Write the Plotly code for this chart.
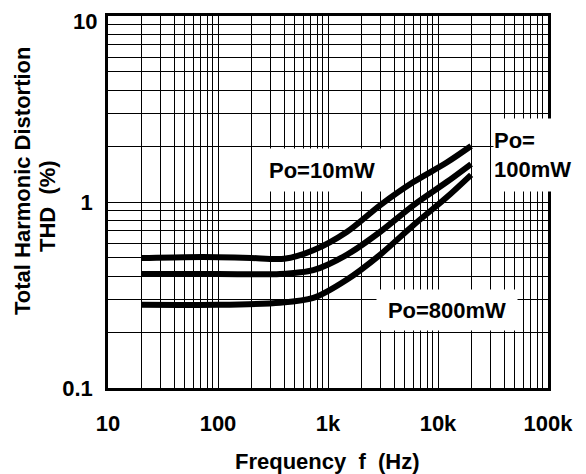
import plotly.graph_objects as go

# ---- data ----
freq_10mW = [20, 50, 100, 200, 400, 735, 1480, 2970, 5970, 12000, 20000]
thd_10mW = [0.50, 0.505, 0.505, 0.50, 0.495, 0.55, 0.69, 0.96, 1.28, 1.63, 2.0]

freq_100mW = [20, 100, 366, 735, 1480, 2970, 5970, 12000, 20000]
thd_100mW = [0.41, 0.41, 0.41, 0.43, 0.52, 0.69, 0.96, 1.28, 1.6]

freq_800mW = [20, 100, 366, 735, 1480, 2970, 5970, 12000, 20000]
thd_800mW = [0.28, 0.28, 0.287, 0.305, 0.382, 0.52, 0.75, 1.06, 1.40]

x_decades = [10, 100, 1000, 10000, 100000]
x_labels = ["10", "100", "1k", "10k", "100k"]
y_decades = [0.1, 1, 10]
y_labels = ["0.1", "1", "10"]

FONT = "Liberation Sans"

def grid_vals(decades):
    vals = []
    for i, d in enumerate(decades):
        vals.append(d)
        if i < len(decades) - 1:
            for m in range(2, 10):
                vals.append(d * m)
    return vals

xv = grid_vals(x_decades)
xt = [x_labels[x_decades.index(v)] if v in x_decades else "" for v in xv]
yv = grid_vals(y_decades)
# the top label ("10") is drawn as an annotation so it stays inside the page
yt = [y_labels[y_decades.index(v)] if (v in y_decades and v != y_decades[-1]) else "" for v in yv]

fig = go.Figure()
for f, t in [(freq_10mW, thd_10mW), (freq_100mW, thd_100mW), (freq_800mW, thd_800mW)]:
    fig.add_trace(go.Scatter(x=f, y=t, mode="lines",
                             line=dict(color="black", width=6, shape="spline", smoothing=0.8),
                             showlegend=False, hoverinfo="skip"))

tick_font = dict(family=FONT, size=22, color="black", weight="bold")
axis_common = dict(type="log", showgrid=True, gridcolor="black", gridwidth=1.3,
                   showline=True, linecolor="black", linewidth=2.5, mirror=True,
                   ticks="outside", tickcolor="rgba(0,0,0,0)", automargin=False,
                   ticklabeloverflow="allow", tickfont=tick_font, zeroline=False)

fig.update_xaxes(range=[1, 5], tickvals=xv, ticktext=xt, ticklen=14, **axis_common)
fig.update_yaxes(range=[-1, 1], tickvals=yv, ticktext=yt, ticklen=8, **axis_common)

# plot area on screen (page body adds 8px offset)
PL, PR, PT, PB = 108, 548, 16, 388

def px(xs):
    return (xs - PL) / (PR - PL)

def py(ys):
    return (PB - ys) / (PB - PT)

fig.add_annotation(x=px(98), y=1.0, xref="paper", yref="paper", xanchor="right", yanchor="top",
                   yshift=8, text=y_labels[-1], showarrow=False, font=tick_font, borderpad=0)

lab_font = dict(family=FONT, size=22, color="black", weight="bold")
fig.add_annotation(x=2.945, y=0.171, xref="x", yref="y", text="Po=10mW", showarrow=False,
                   font=lab_font, bgcolor="white", width=124, height=42, borderpad=0)
fig.add_annotation(x=4.082, y=-0.581, xref="x", yref="y", text="Po=800mW", showarrow=False,
                   font=lab_font, bgcolor="white", width=140, height=40, borderpad=0)
fig.add_annotation(x=4.93, y=0.251, xref="x", yref="y", text="Po=<br>100mW", showarrow=False,
                   font=lab_font, bgcolor="white", width=92, height=72, borderpad=0, align="left")

title_font = dict(family=FONT, size=22, color="black", weight="bold")
fig.add_annotation(x=px(22), y=py(181), xref="paper", yref="paper", xanchor="center", yanchor="middle",
                   text="Total Harmonic Distortion", textangle=-90, showarrow=False, font=title_font)
fig.add_annotation(x=px(47), y=py(206), xref="paper", yref="paper", xanchor="center", yanchor="middle",
                   text="THD  (%)", textangle=-90, showarrow=False, font=title_font)
fig.add_annotation(x=px(327), y=py(461), xref="paper", yref="paper", xanchor="center", yanchor="middle",
                   text="Frequency  f  (Hz)", showarrow=False, font=title_font)

fig.update_layout(width=586, height=474,
                  margin=dict(l=PL - 8, r=586 - (PR - 8), t=PT - 8, b=474 - (PB - 8)),
                  plot_bgcolor="white", paper_bgcolor="white")

fig.write_html("out.html")
